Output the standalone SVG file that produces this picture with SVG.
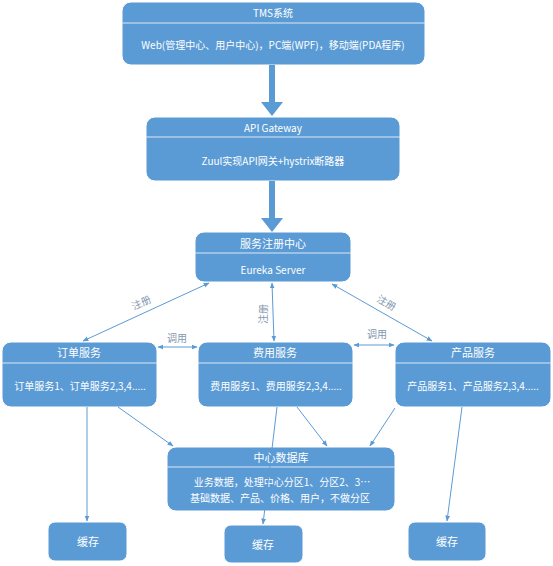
<svg xmlns="http://www.w3.org/2000/svg" width="553" height="566" viewBox="0 0 553 566">
<defs>
<style>
.box{fill:#5B9BD5;stroke:#ffffff;stroke-width:1}
.div{stroke:#DCE9F6;stroke-width:1}
.t{font-family:"Noto Sans CJK SC","Noto Sans",sans-serif;fill:#ffffff;text-anchor:middle;dominant-baseline:central}
.s10{font-size:10px}
.s11{font-size:11px}
.ln{stroke:#5B9BD5;stroke-width:1;fill:none}
.lbl{font-family:"Noto Sans CJK SC","Noto Sans",sans-serif;font-size:10px;fill:#8497B0;text-anchor:middle;dominant-baseline:central}
.big{fill:#5B9BD5}
</style>
<marker id="ah" viewBox="0 0 10 10" refX="9" refY="5" markerWidth="6" markerHeight="6" orient="auto-start-reverse" markerUnits="userSpaceOnUse">
<path d="M0,1 L10,5 L0,9 Z" fill="#5B9BD5"/>
</marker>
</defs>

<g id="tms">
<rect class="box" x="122" y="2" width="303" height="63" rx="9"/>
<line class="div" x1="122" y1="23" x2="425" y2="23"/>
<text class="t s10" x="273" y="12">TMS系统</text>
<text class="t s10" x="273" y="44">Web(管理中心、用户中心)，PC端(WPF)，移动端(PDA程序)</text>
</g>

<g id="gateway">
<rect class="box" x="146" y="117" width="254" height="64" rx="9"/>
<line class="div" x1="146" y1="137" x2="400" y2="137"/>
<text class="t s10" x="273" y="127">API Gateway</text>
<text class="t s10" x="273" y="160">Zuul实现API网关+hystrix断路器</text>
</g>

<g id="eureka">
<rect class="box" x="195" y="232" width="156" height="50" rx="9"/>
<line class="div" x1="195" y1="253" x2="351" y2="253"/>
<text class="t s11" x="273" y="243">服务注册中心</text>
<text class="t s10" x="273" y="269">Eureka Server</text>
</g>

<g id="order">
<rect class="box" x="2" y="342" width="155" height="65" rx="9"/>
<line class="div" x1="2" y1="363" x2="157" y2="363"/>
<text class="t s11" x="79" y="352">订单服务</text>
<text class="t s10" x="80" y="385">订单服务1、订单服务2,3,4.....</text>
</g>

<g id="fee">
<rect class="box" x="198" y="342" width="155" height="65" rx="9"/>
<line class="div" x1="198" y1="363" x2="353" y2="363"/>
<text class="t s11" x="275" y="352">费用服务</text>
<text class="t s10" x="276" y="385">费用服务1、费用服务2,3,4.....</text>
</g>

<g id="product">
<rect class="box" x="395" y="342" width="156" height="65" rx="9"/>
<line class="div" x1="395" y1="363" x2="551" y2="363"/>
<text class="t s11" x="473" y="352">产品服务</text>
<text class="t s10" x="473" y="385">产品服务1、产品服务2,3,4.....</text>
</g>

<g id="db">
<rect class="box" x="167" y="447" width="228" height="64" rx="9"/>
<line class="div" x1="167" y1="467" x2="395" y2="467"/>
<text class="t s11" x="281" y="457">中心数据库</text>
<text class="t s10" x="282" y="481">业务数据，处理中心分区1、分区2、3…</text>
<text class="t s10" x="280" y="497">基础数据、产品、价格、用户，不做分区</text>
</g>

<g id="cache1">
<rect class="box" x="48" y="522" width="79" height="39" rx="7"/>
<text class="t s11" x="88" y="541">缓存</text>
</g>
<g id="cache2">
<rect class="box" x="224" y="525" width="79" height="38" rx="7"/>
<text class="t s11" x="263" y="544">缓存</text>
</g>
<g id="cache3">
<rect class="box" x="408" y="522" width="78" height="39" rx="7"/>
<text class="t s11" x="447" y="541">缓存</text>
</g>

<g id="connectors">
<path class="big" d="M269,65 L275,65 L275,102 L283,102 L272,116 L261,102 L269,102 Z"/>
<path class="big" d="M269,181 L275,181 L275,218 L283,218 L272,232 L261,218 L269,218 Z"/>

<line class="ln" x1="83" y1="341" x2="209" y2="283" marker-start="url(#ah)" marker-end="url(#ah)"/>
<line class="ln" x1="272" y1="283" x2="274" y2="341" marker-start="url(#ah)" marker-end="url(#ah)"/>
<line class="ln" x1="432" y1="341" x2="332" y2="284" marker-start="url(#ah)" marker-end="url(#ah)"/>
<line class="ln" x1="158" y1="347" x2="197" y2="347" marker-start="url(#ah)" marker-end="url(#ah)"/>
<line class="ln" x1="354" y1="345" x2="394" y2="345" marker-start="url(#ah)" marker-end="url(#ah)"/>

<line class="ln" x1="87" y1="407" x2="87" y2="521" marker-end="url(#ah)"/>
<line class="ln" x1="118" y1="407" x2="173" y2="446" marker-end="url(#ah)"/>
<line class="ln" x1="277" y1="407" x2="263" y2="524" marker-end="url(#ah)"/>
<line class="ln" x1="297" y1="407" x2="327" y2="446" marker-end="url(#ah)"/>
<line class="ln" x1="395" y1="408" x2="370" y2="446" marker-end="url(#ah)"/>
<line class="ln" x1="462" y1="407" x2="447" y2="521" marker-end="url(#ah)"/>

<text class="lbl" transform="translate(141,302) rotate(-25)">注册</text>
<text class="lbl" transform="translate(262,314) rotate(-90)">注册</text>
<text class="lbl" transform="translate(387,302) rotate(30)">注册</text>
<text class="lbl" x="177" y="337">调用</text>
<text class="lbl" x="377" y="333">调用</text>
</g>
</svg>
